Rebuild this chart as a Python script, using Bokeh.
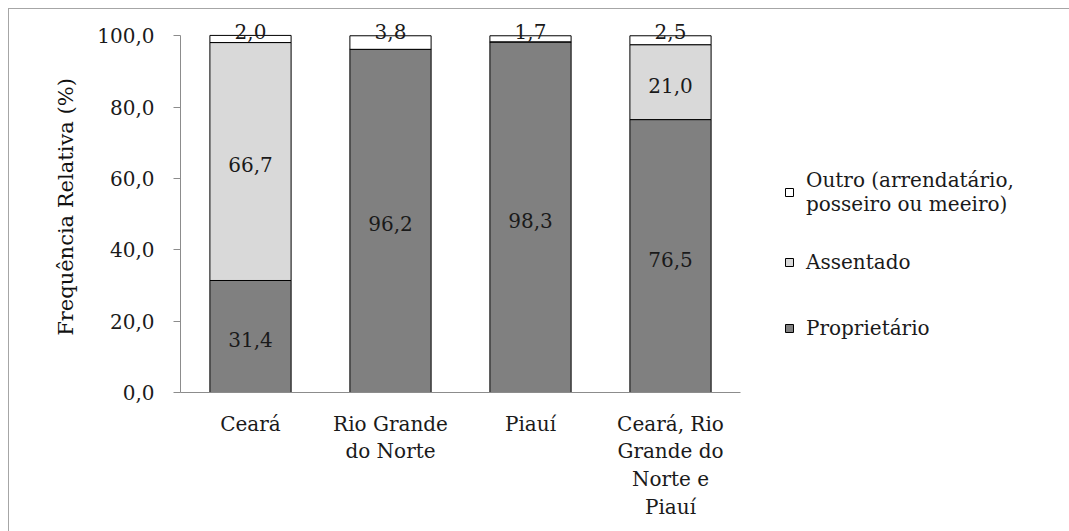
from bokeh.plotting import figure
from bokeh.models import ColumnDataSource, Range1d, FixedTicker, Legend, LegendItem
from bokeh.core.properties import value
from bokeh.embed import file_html
from bokeh.resources import INLINE

categories = ["Ceará", "Rio Grande\ndo Norte", "Piauí", "Ceará, Rio\nGrande do\nNorte e\nPiauí"]
proprietario = [31.4, 96.2, 98.3, 76.5]
assentado = [66.7, 0.0, 0.0, 21.0]
outro = [2.0, 3.8, 1.7, 2.5]
series_names = ["Proprietário", "Assentado", "Outro (arrendatário,\nposseiro ou meeiro)"]
series_colors = ["#808080", "#d9d9d9", "#ffffff"]
y_ticks = [0, 20, 40, 60, 80, 100]
y_tick_labels = ["0,0", "20,0", "40,0", "60,0", "80,0", "100,0"]
y_title = "Frequência Relativa (%)"

FONT = "DejaVu Serif"
FS = "20px"

def fmt(v):
    return ("%.1f" % v).replace(".", ",")

n = len(categories)
xpos = [i + 0.5 for i in range(n)]

FIG_W, FIG_H = 1061, 523
BL, BR = 171, 10
frame_w = FIG_W - BL - BR
x_end = frame_w / 140.0  # 140 px per category slot; extra room on the right holds the legend

src = ColumnDataSource(dict(x=xpos, prop=proprietario, assent=assentado, outro=outro))

p = figure(x_range=Range1d(0, x_end), y_range=Range1d(0, 104),
           width=FIG_W, height=FIG_H, output_backend="svg", toolbar_location=None,
           min_border_left=BL, min_border_top=12, min_border_bottom=140, min_border_right=BR)
p.styles = {"margin-left": "8px", "margin-top": "8px",
            "border-left": "1px solid #a6a6a6", "border-top": "1px solid #a6a6a6"}

rs = p.vbar_stack(["prop", "assent", "outro"], x="x", width=0.58, source=src,
                  fill_color=series_colors, line_color="black", line_width=1)

# segment labels
lx, ly, lt, loff = [], [], [], []
for i in range(n):
    base = 0.0
    for vals, top_series in ((proprietario, False), (assentado, False), (outro, True)):
        v = vals[i]
        if v > 0:
            lx.append(xpos[i]); lt.append(fmt(v))
            if top_series:
                ly.append(100.0); loff.append(-4)
            else:
                ly.append(base + v / 2); loff.append(3)
        base += v
lsrc = ColumnDataSource(dict(x=lx, y=ly, text=lt, off=loff))
p.text(x="x", y="y", text="text", source=lsrc, y_offset="off", text_align="center",
       text_baseline="middle", text_font=value(FONT), text_font_size=FS, text_color="#1a1a1a")

p.xgrid.visible = False
p.ygrid.visible = False
p.outline_line_color = None

p.yaxis.ticker = FixedTicker(ticks=y_ticks)
p.yaxis.major_label_overrides = {t: l for t, l in zip(y_ticks, y_tick_labels)}
p.yaxis.bounds = (0, 100)
p.yaxis.axis_label = y_title

p.xaxis.ticker = FixedTicker(ticks=xpos)
p.xaxis.major_label_overrides = {x: c for x, c in zip(xpos, categories)}
p.xaxis.bounds = (0, n)

for ax in (p.xaxis, p.yaxis):
    ax.axis_line_color = "#8c8c8c"
    ax.major_tick_line_color = "#8c8c8c"
    ax.minor_tick_line_color = None
    ax.major_label_text_font = FONT
    ax.major_label_text_font_size = FS
    ax.major_label_text_color = "#1a1a1a"
    ax.axis_label_text_font = FONT
    ax.axis_label_text_font_size = "21px"
    ax.axis_label_text_font_style = "normal"
    ax.axis_label_text_color = "#111111"
p.yaxis.major_tick_out = 7
p.yaxis.major_tick_in = 0
p.yaxis.major_label_standoff = 19
p.yaxis.axis_label_standoff = 16
p.xaxis.major_tick_line_color = None
p.xaxis.major_label_standoff = 13
p.xaxis.major_label_text_line_height = 1.16

items = [LegendItem(label=series_names[i], renderers=[rs[i]]) for i in (2, 1, 0)]
legend = Legend(items=items, location=(604, 44), orientation="vertical",
                glyph_width=10, glyph_height=10, label_standoff=12,
                label_height=40, spacing=26, padding=6, margin=0,
                label_text_font=FONT, label_text_font_size=FS, label_text_color="#1a1a1a",
                border_line_color=None, background_fill_alpha=0)
p.add_layout(legend)

open("out.html", "w").write(file_html(p, INLINE))
